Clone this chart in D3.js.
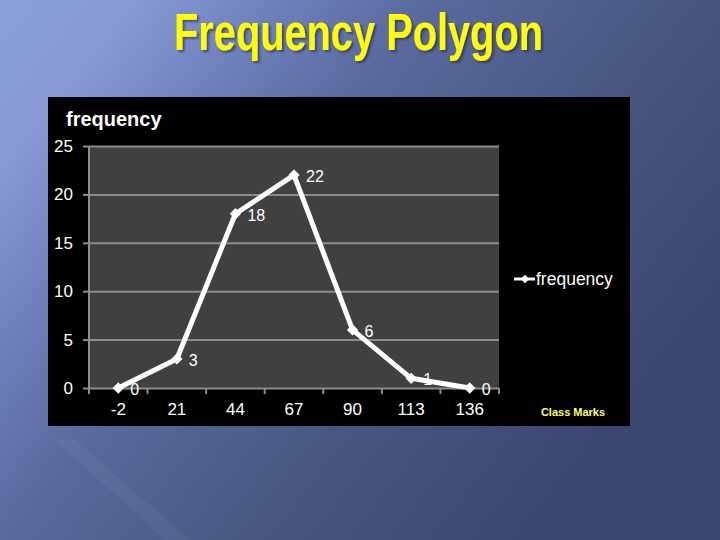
<!DOCTYPE html>
<html>
<head>
<meta charset="utf-8">
<script src="https://cdn.jsdelivr.net/npm/d3@7"></script>
<style>
  body { margin: 0; padding: 0; overflow: hidden; }
  svg { display: block; }
</style>
</head>
<body>
<svg id="chart"></svg>
<script>
// chart values
const classMarks = ["-2", "21", "44", "67", "90", "113", "136"];
const frequency = [0, 3, 18, 22, 6, 1, 0];
const yTicks = [0, 5, 10, 15, 20, 25];
const seriesName = "frequency";

const width = 720, height = 540;
const svg = d3.select("#chart").attr("width", width).attr("height", height);

// slide background
const defs = svg.append("defs");
const bg = defs.append("linearGradient")
    .attr("id", "bg")
    .attr("x1", 0).attr("y1", 0).attr("x2", 1).attr("y2", 0.6);
[[0, "#8aa0dc"], [0.14, "#8499d6"], [0.3, "#6c7eb9"], [0.44, "#5a6a9e"], [0.72, "#47557f"], [1, "#3b4670"]]
    .forEach(s => bg.append("stop").attr("offset", s[0]).attr("stop-color", s[1]));

const shadow = defs.append("filter").attr("id", "shadow")
    .attr("x", "-5%").attr("y", "-20%").attr("width", "110%").attr("height", "140%");
shadow.append("feDropShadow")
    .attr("dx", 2).attr("dy", 2).attr("stdDeviation", 1.2)
    .attr("flood-color", "#1c2240").attr("flood-opacity", 0.6);

svg.append("rect").attr("width", width).attr("height", height).attr("fill", "url(#bg)");

// faint diagonal streak
svg.append("path")
    .attr("d", "M55,440 L75,440 L190,540 L165,540 Z")
    .attr("fill", "#ffffff").attr("opacity", 0.04);

// title
svg.append("text")
    .attr("x", 174).attr("y", 50)
    .attr("font-family", "'Liberation Sans Narrow', 'Liberation Sans', Arial, sans-serif")
    .attr("font-weight", "bold").attr("font-size", 52)
    .attr("textLength", 369).attr("lengthAdjust", "spacingAndGlyphs")
    .attr("fill", "#ffff00")
    .attr("filter", "url(#shadow)")
    .text("Frequency Polygon");

// chart panel
const font = "'Liberation Sans', Arial, sans-serif";
svg.append("rect")
    .attr("x", 48).attr("y", 97).attr("width", 582).attr("height", 329)
    .attr("fill", "#000000");

const margin = { left: 89, right: 499, top: 146, bottom: 388 };

const x = d3.scaleBand()
    .domain(classMarks)
    .range([margin.left, margin.right]);

const y = d3.scaleLinear()
    .domain([0, 25])
    .range([margin.bottom, margin.top]);

svg.append("rect")
    .attr("x", margin.left).attr("y", margin.top)
    .attr("width", margin.right - margin.left).attr("height", margin.bottom - margin.top)
    .attr("fill", "#404040");

// y axis + gridlines
const yAxis = svg.append("g")
    .attr("transform", `translate(${margin.left},0)`)
    .call(d3.axisLeft(y).tickValues(yTicks).tickSize(6).tickPadding(10).tickFormat(d3.format("d")));
yAxis.selectAll(".tick line").clone()
    .attr("x1", 0).attr("x2", margin.right - margin.left);
yAxis.selectAll("line").attr("stroke", "#8c8c8c").attr("stroke-width", 2);
yAxis.select(".domain").attr("stroke", "#8c8c8c").attr("stroke-width", 2)
    .attr("d", `M0,${margin.top}V${margin.bottom}`);
yAxis.selectAll("text")
    .attr("fill", "#ffffff").attr("font-family", font).attr("font-size", 17);

// x axis: labels at band centres, ticks at band edges
const xAxis = svg.append("g")
    .attr("transform", `translate(0,${margin.bottom})`)
    .call(d3.axisBottom(x).tickSize(0).tickPadding(15));
xAxis.select(".domain").remove();
xAxis.selectAll("text")
    .attr("fill", "#ffffff").attr("font-family", font).attr("font-size", 17);

const edges = classMarks.map(d => x(d)).concat([x.range()[1]]);
svg.append("g").selectAll("line")
    .data(edges)
    .join("line")
    .attr("x1", d => d).attr("x2", d => d)
    .attr("y1", margin.bottom).attr("y2", margin.bottom + 6)
    .attr("stroke", "#8c8c8c").attr("stroke-width", 2);

// series
const points = classMarks.map((m, i) => ({ mark: m, value: frequency[i] }));
const px = d => x(d.mark) + x.bandwidth() / 2;

const line = d3.line()
    .x(px)
    .y(d => y(d.value));

svg.append("path")
    .datum(points)
    .attr("d", line)
    .attr("fill", "none")
    .attr("stroke", "#ffffff")
    .attr("stroke-width", 5)
    .attr("stroke-linejoin", "round");

const marker = d3.symbol().type(d3.symbolSquare).size(64);
svg.append("g").selectAll("path")
    .data(points)
    .join("path")
    .attr("d", marker)
    .attr("transform", d => `translate(${px(d)},${y(d.value)}) rotate(45)`)
    .attr("fill", "#ffffff");

svg.append("g").selectAll("text")
    .data(points)
    .join("text")
    .attr("x", d => px(d) + 12)
    .attr("y", d => y(d.value) + 7)
    .attr("fill", "#ffffff")
    .attr("font-family", font)
    .attr("font-size", 16)
    .text(d => d.value);

// axis titles
svg.append("text")
    .attr("x", 66).attr("y", 126)
    .attr("fill", "#ffffff").attr("font-family", font)
    .attr("font-weight", "bold").attr("font-size", 20)
    .text("frequency");

svg.append("text")
    .attr("x", 573).attr("y", 416)
    .attr("text-anchor", "middle")
    .attr("fill", "#ffff66").attr("font-family", font)
    .attr("font-weight", "bold").attr("font-size", 11)
    .text("Class Marks");

// legend
const legend = svg.append("g").attr("transform", "translate(514,279)");
legend.append("line")
    .attr("x1", 0).attr("x2", 21)
    .attr("stroke", "#ffffff").attr("stroke-width", 3);
legend.append("path")
    .attr("d", d3.symbol().type(d3.symbolSquare).size(36))
    .attr("transform", "translate(11,0) rotate(45)")
    .attr("fill", "#ffffff");
legend.append("text")
    .attr("x", 22).attr("y", 6)
    .attr("fill", "#ffffff").attr("font-family", font).attr("font-size", 17.5)
    .text(seriesName);
</script>
</body>
</html>
